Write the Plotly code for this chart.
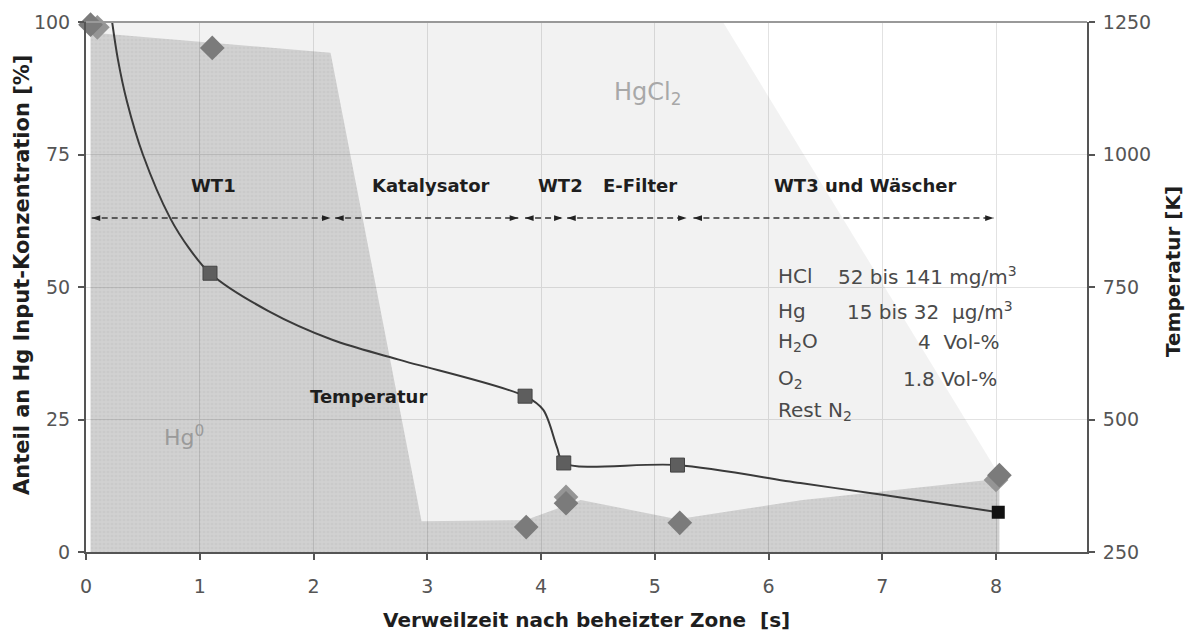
import plotly.graph_objects as go

# ---- Hg-Spezies als Flächen (Anteil an Hg Input-Konzentration, %) ----
hg0_area_t = [0.04, 2.15, 2.95, 3.86, 4.35, 5.20, 6.30, 8.03]
hg0_area_pct = [98.0, 94.2, 5.8, 6.0, 9.8, 6.2, 9.8, 13.8]

hgges_area_t = [0.04, 5.60, 8.03]
hgges_area_pct = [100.0, 100.0, 14.5]

# ---- Messwerte Hg (Rauten) ----
hg_mess_t = [0.04, 1.11, 3.87, 4.22, 5.22, 8.03]
hg_mess_pct = [99.5, 95.1, 4.7, 9.2, 5.5, 14.5]
hg_mess2_t = [0.10, 4.22, 8.00]
hg_mess2_pct = [99.0, 10.4, 13.6]

# ---- Temperaturverlauf [K] ----
temp_t = [0.22, 0.28, 0.36, 0.50, 0.74, 0.91, 1.09, 1.60, 2.17, 2.75, 3.86,
          4.02, 4.14, 4.20, 5.20, 6.28, 7.00, 8.02]
temp_k = [1265, 1180, 1100, 1000, 880, 822, 776, 705, 650, 613, 544,
          518, 448, 418, 414, 380, 358, 325]
temp_mess_t = [1.09, 3.86, 4.20, 5.20]
temp_mess_k = [776, 544, 418, 414]
temp_end_t = [8.02]
temp_end_k = [325]

# ---- Anlagenabschnitte ----
zones = ["WT1", "Katalysator", "WT2", "E-Filter", "WT3 und Wäscher"]
zone_start = [0.05, 2.19, 3.86, 4.23, 5.34]
zone_end = [2.15, 3.80, 4.19, 5.28, 7.98]
zone_label_t = [1.12, 3.03, 4.17, 4.87, 6.85]
zone_arrow_pct = 63.0
zone_label_pct = 69.2

x_ticks = [0, 1, 2, 3, 4, 5, 6, 7, 8]
y_ticks = [0, 25, 50, 75, 100]
y2_ticks = [250, 500, 750, 1000, 1250]

FONT = "DejaVu Sans"
AXIS_COL = "#555555"
GRID_COL = "#e2e2e2"
LABEL_COL = "#1e1e1e"
INFO_COL = "#4a4a4a"

fig = go.Figure()

# Hg0 area (dithered mid grey)
fig.add_trace(go.Scatter(
    x=hg0_area_t, y=hg0_area_pct, mode="lines", line=dict(width=0),
    fill="tozeroy", fillcolor="rgba(0,0,0,0.19)",
    fillpattern=dict(shape=".", size=4, solidity=0.35,
                     fgcolor="rgba(0,0,0,0.06)", bgcolor="rgba(0,0,0,0.18)"),
    hoverinfo="skip"))
# HgCl2 area on top of Hg0 (light grey)
fig.add_trace(go.Scatter(
    x=hgges_area_t, y=hgges_area_pct, mode="lines", line=dict(width=0),
    fill="tonexty", fillcolor="rgba(0,0,0,0.05)", hoverinfo="skip"))

# zone arrows: dashed shafts with heads pointing outwards
for s, e in zip(zone_start, zone_end):
    fig.add_trace(go.Scatter(
        x=[s, e], y=[zone_arrow_pct, zone_arrow_pct], mode="lines",
        line=dict(color="#333333", width=1.5, dash="6px,4px"),
        hoverinfo="skip"))
head_t = [v for pair in zip(zone_start, zone_end) for v in pair]
head_angle = [a for _ in zone_start for a in (-90, 90)]
fig.add_trace(go.Scatter(
    x=head_t, y=[zone_arrow_pct] * len(head_t), mode="markers",
    marker=dict(symbol="arrow", size=9, angle=head_angle, color="#222222",
                line=dict(width=0)),
    hoverinfo="skip"))

# measured Hg diamonds
fig.add_trace(go.Scatter(
    x=hg_mess2_t, y=hg_mess2_pct, mode="markers",
    marker=dict(symbol="diamond", size=19, color="#959595", line=dict(width=0)),
    cliponaxis=False, hoverinfo="skip"))
fig.add_trace(go.Scatter(
    x=hg_mess_t, y=hg_mess_pct, mode="markers",
    marker=dict(symbol="diamond", size=19, color="#7b7b7b", line=dict(width=0)),
    cliponaxis=False, hoverinfo="skip"))

# temperature curve on the right axis
fig.add_trace(go.Scatter(
    x=temp_t, y=temp_k, yaxis="y2", mode="lines",
    line=dict(color="#3a3a3a", width=2, shape="spline", smoothing=0.9),
    hoverinfo="skip"))
fig.add_trace(go.Scatter(
    x=temp_mess_t, y=temp_mess_k, yaxis="y2", mode="markers",
    marker=dict(symbol="square", size=14, color="#5e5e5e",
                line=dict(color="#444444", width=1)),
    hoverinfo="skip"))
fig.add_trace(go.Scatter(
    x=temp_end_t, y=temp_end_k, yaxis="y2", mode="markers",
    marker=dict(symbol="square", size=13, color="#111111"),
    cliponaxis=False, hoverinfo="skip"))

annotations = []
# zone labels
for name, xt in zip(zones, zone_label_t):
    annotations.append(dict(
        x=xt, y=zone_label_pct, xref="x", yref="y", text=f"<b>{name}</b>",
        showarrow=False, font=dict(family=FONT, size=18, color=LABEL_COL)))

annotations += [
    dict(x=2.48, y=29.4, xref="x", yref="y", text="<b>Temperatur</b>",
         showarrow=False, font=dict(family=FONT, size=18, color=LABEL_COL)),
    dict(x=4.94, y=86.6, xref="x", yref="y", text="HgCl<sub>2</sub>",
         showarrow=False, font=dict(family=FONT, size=24, color="#a8a8a8")),
    dict(x=0.86, y=21.8, xref="x", yref="y", text="Hg<sup>0</sup>",
         showarrow=False, font=dict(family=FONT, size=22, color="#9a9a9a")),
]

# gas composition block
info_left = ["HCl", "Hg", "H<sub>2</sub>O", "O<sub>2</sub>", "Rest N<sub>2</sub>"]
info_right = ["52 bis 141 mg/m<sup>3</sup>", "15 bis 32  µg/m<sup>3</sup>",
              "4  Vol-%", "1.8 Vol-%", ""]
info_right_end = [8.20, 8.17, 8.05, 8.03, 8.0]
info_pct = [52.0, 45.4, 39.6, 32.6, 26.6]
for lab, val, xe, yy in zip(info_left, info_right, info_right_end, info_pct):
    annotations.append(dict(
        x=6.07, y=yy, xref="x", yref="y", text=lab, xanchor="left",
        showarrow=False, font=dict(family=FONT, size=20, color=INFO_COL)))
    if val:
        annotations.append(dict(
            x=xe, y=yy, xref="x", yref="y", text=val, xanchor="right",
            showarrow=False, font=dict(family=FONT, size=20, color=INFO_COL)))

# axis titles
annotations += [
    dict(x=0, y=0.5, xref="paper", yref="paper", xanchor="center",
         yanchor="middle", xshift=-64, yshift=12, textangle=-90,
         text="<b>Anteil an Hg Input-Konzentration [%]</b>", showarrow=False,
         font=dict(family=FONT, size=21, color=LABEL_COL)),
    dict(x=1, y=0.5, xref="paper", yref="paper", xanchor="center",
         yanchor="middle", xshift=86, yshift=15, textangle=-90,
         text="<b>Temperatur [K]</b>", showarrow=False,
         font=dict(family=FONT, size=20, color=LABEL_COL)),
    dict(x=0.5, y=0, xref="paper", yref="paper", xanchor="center",
         yanchor="middle", yshift=-68,
         text="<b>Verweilzeit nach beheizter Zone  [s]</b>", showarrow=False,
         font=dict(family=FONT, size=20, color=LABEL_COL)),
]

axis_common = dict(
    showline=True, linecolor=AXIS_COL, linewidth=2, ticks="outside",
    ticklen=6, tickwidth=1.5, tickcolor=AXIS_COL, zeroline=False,
    tickfont=dict(family=FONT, size=19, color="#555555"))

fig.update_layout(
    width=1198, height=637,
    margin=dict(l=86, r=111, t=22, b=85),
    plot_bgcolor="white", paper_bgcolor="white",
    showlegend=False,
    font=dict(family=FONT, color="#555555"),
    xaxis=dict(range=[0, 8.8], tickvals=x_ticks, showgrid=True,
               gridcolor=GRID_COL, gridwidth=1, ticklabelstandoff=10,
               **axis_common),
    yaxis=dict(range=[0, 100], tickvals=y_ticks, showgrid=True,
               gridcolor=GRID_COL, gridwidth=1, ticklabelstandoff=4,
               **axis_common),
    yaxis2=dict(range=[250, 1250], tickvals=y2_ticks, overlaying="y",
                side="right", showgrid=False, ticklabelstandoff=4,
                **axis_common),
    annotations=annotations,
    shapes=[dict(type="line", xref="paper", yref="paper", x0=0, x1=1,
                 y0=1, y1=1, line=dict(color="#999999", width=2),
                 layer="above")],
)

fig.write_html("out.html")
